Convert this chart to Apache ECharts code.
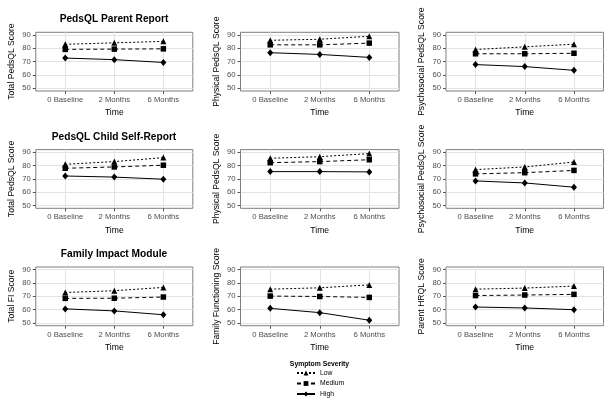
<!DOCTYPE html>
<html><head><meta charset="utf-8">
<script src="https://cdn.jsdelivr.net/npm/echarts@6/dist/echarts.min.js"></script>
<style>html,body{margin:0;padding:0;background:#fff}#c{width:614px;height:407px}</style>
</head><body><div id="c"></div>
<script>
// ---- data ----
const timePoints = ['0 Baseline', '2 Months', '6 Months'];
const severityLevels = ['Low', 'Medium', 'High'];
const yTicks = [50, 60, 70, 80, 90];

const rowTitles = ['PedsQL Parent Report', 'PedsQL Child Self-Report', 'Family Impact Module'];
const yTitles = [
  'Total PedsQL Score', 'Physical PedsQL Score', 'Psychosocial PedsQL Score',
  'Total PedsQL Score', 'Physical PedsQL Score', 'Psychosocial PedsQL Score',
  'Total FI Score', 'Family Functioning Score', 'Parent HRQL Score'
];

// Parent report
const parentTotalLow = [83.0, 84.1, 85.2];
const parentTotalMedium = [79.2, 79.4, 79.6];
const parentTotalHigh = [72.7, 71.5, 69.4];
const parentPhysicalLow = [86.0, 86.8, 89.0];
const parentPhysicalMedium = [82.6, 82.6, 83.9];
const parentPhysicalHigh = [76.7, 75.4, 73.2];
const parentPsychLow = [79.1, 81.1, 83.1];
const parentPsychMedium = [75.9, 75.9, 76.3];
const parentPsychHigh = [67.8, 66.3, 63.5];
// Child self-report
const childTotalLow = [81.0, 83.0, 86.0];
const childTotalMedium = [78.0, 79.0, 80.3];
const childTotalHigh = [72.2, 71.4, 69.8];
const childPhysicalLow = [85.5, 86.7, 89.0];
const childPhysicalMedium = [82.2, 83.0, 84.4];
const childPhysicalHigh = [75.5, 75.5, 75.3];
const childPsychLow = [77.0, 79.0, 82.7];
const childPsychMedium = [73.8, 74.7, 76.4];
const childPsychHigh = [68.5, 67.0, 63.8];
// Family impact module
const fiTotalLow = [72.9, 74.2, 76.7];
const fiTotalMedium = [68.5, 68.6, 69.5];
const fiTotalHigh = [60.6, 59.1, 56.2];
const familyFunctioningLow = [75.4, 76.4, 78.6];
const familyFunctioningMedium = [70.2, 69.9, 69.2];
const familyFunctioningHigh = [61.0, 57.8, 52.1];
const parentHrqlLow = [75.4, 76.2, 77.7];
const parentHrqlMedium = [70.6, 71.0, 71.5];
const parentHrqlHigh = [62.0, 61.3, 60.0];

const panels = [
  [parentTotalLow, parentTotalMedium, parentTotalHigh],
  [parentPhysicalLow, parentPhysicalMedium, parentPhysicalHigh],
  [parentPsychLow, parentPsychMedium, parentPsychHigh],
  [childTotalLow, childTotalMedium, childTotalHigh],
  [childPhysicalLow, childPhysicalMedium, childPhysicalHigh],
  [childPsychLow, childPsychMedium, childPsychHigh],
  [fiTotalLow, fiTotalMedium, fiTotalHigh],
  [familyFunctioningLow, familyFunctioningMedium, familyFunctioningHigh],
  [parentHrqlLow, parentHrqlMedium, parentHrqlHigh]
];

// ---- layout / style ----
const colLeft = [35.8, 240.5, 446];
const colWidth = [157, 158.5, 157.5];
const rowTop = [32.3, 149.6, 267];
const rowHeight = 58.7;
const FONT = 'Liberation Sans, Arial, Helvetica, sans-serif';
const symbols = ['triangle', 'rect', 'diamond'];
const symbolSizes = [[6, 6], [5.5, 5.5], [6, 7]];
const lineTypes = [[2, 2], [4, 3], 'solid'];

const grids = [], xAxes = [], yAxes = [], series = [];
panels.forEach((panel, i) => {
  const r = Math.floor(i / 3), c = i % 3;
  grids.push({
    left: colLeft[c], top: rowTop[r], width: colWidth[c], height: rowHeight,
    show: true, borderColor: '#7f7f7f', borderWidth: 1, backgroundColor: '#fff'
  });
  xAxes.push({
    type: 'value', gridIndex: i, min: 0.4, max: 3.6,
    name: 'Time', nameLocation: 'middle', nameGap: 17.5,
    nameTextStyle: { fontFamily: FONT, fontSize: 8.6, color: '#000' },
    axisLine: { show: false },
    axisTick: { show: true, length: 3, customValues: [1, 2, 3], lineStyle: { color: '#555' } },
    axisLabel: { customValues: [1, 2, 3], margin: 5, fontFamily: FONT, fontSize: 7.7, color: '#4d4d4d',
      formatter: v => timePoints[Math.round(v) - 1] || '' },
    splitLine: { show: true, lineStyle: { color: '#e3e3e3', width: 1 } }
  });
  yAxes.push({
    type: 'value', gridIndex: i, min: 48, max: 92,
    name: yTitles[i], nameLocation: 'middle', nameGap: 19.5,
    nameTextStyle: { fontFamily: FONT, fontSize: 8.6, color: '#000' },
    axisLine: { show: false },
    axisTick: { show: true, length: 3, customValues: yTicks, lineStyle: { color: '#555' } },
    axisLabel: { customValues: yTicks, margin: 5, fontFamily: FONT, fontSize: 7.7, color: '#4d4d4d' },
    splitLine: { show: true, lineStyle: { color: '#e3e3e3', width: 1 } }
  });
  panel.forEach((vals, s) => {
    series.push({
      type: 'line', name: severityLevels[s], xAxisIndex: i, yAxisIndex: i,
      data: vals.map((v, k) => [k + 1, v]),
      symbol: symbols[s], symbolSize: symbolSizes[s], showSymbol: true,
      lineStyle: { color: '#000', width: 1, type: lineTypes[s] },
      itemStyle: { color: '#000' },
      emphasis: { disabled: true }, animation: false, z: 3
    });
  });
});

const titles = rowTitles.map((t, r) => ({
  text: t, left: 114, top: [14.5, 132, 249.5][r], textAlign: 'center',
  textStyle: { fontFamily: FONT, fontSize: 10.2, fontWeight: 'bold', color: '#000' }, padding: 0
}));
titles.push({
  text: 'Symptom Severity', left: 319.5, top: 361, textAlign: 'center', padding: 0,
  textStyle: { fontFamily: FONT, fontSize: 6.8, fontWeight: 'bold', color: '#000' }
});

const chart = echarts.init(document.getElementById('c'), null, { renderer: 'canvas' });
chart.setOption({
  animation: false,
  backgroundColor: '#fff',
  title: titles,
  grid: grids, xAxis: xAxes, yAxis: yAxes, series: series,
  legend: {
    data: severityLevels, orient: 'vertical', left: 296, top: 369.5,
    itemWidth: 18, itemHeight: 6, itemGap: 3.5, padding: 0,
    selectedMode: false,
    textStyle: { fontFamily: FONT, fontSize: 6.8, color: '#000', width: 30, align: 'center' }
  }
});
</script></body></html>
